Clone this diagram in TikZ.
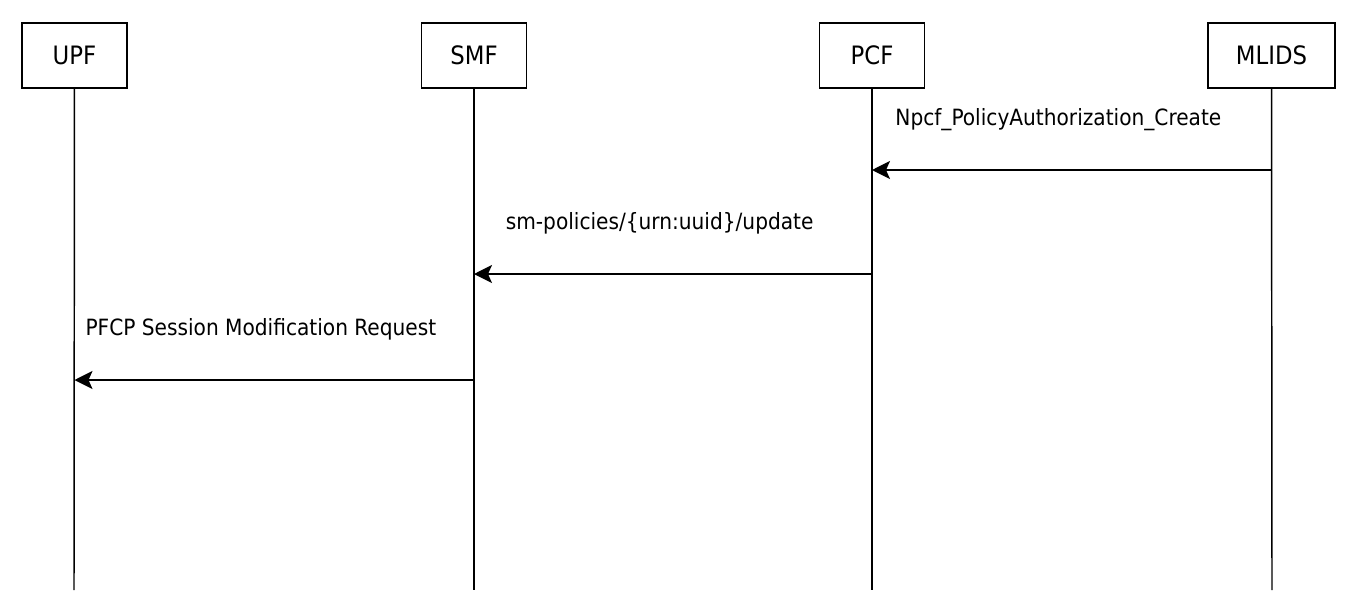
\documentclass[tikz,border=0pt]{standalone}
\usepackage{fontspec}
\setmainfont{DejaVu Sans Condensed}
\usetikzlibrary{arrows.meta}

\def \lifeend {590}
\def \lifewidth {1.1pt}

\begin{document}
\begin{tikzpicture}[x=0.75pt, y=-0.75pt,
  actor/.style={draw, line width=\lifewidth, minimum width=79pt, minimum height=48.75pt, inner sep=0pt, font=\fontsize{19pt}{22pt}\selectfont},
  life/.style={line width=\lifewidth},
  msg/.style={line width=\lifewidth, -{Stealth[length=13.5pt, width=13.5pt, inset=3pt]}},
  msglabel/.style={midway, xshift=-10pt, yshift=38pt, font=\fontsize{16.8pt}{20pt}\selectfont}]
\useasboundingbox (0,0) rectangle (1357,614);
% participants
\node[actor] (upf) at (74.5,55.5) {UPF};
\node[actor] (smf) at (474,55.5) {SMF};
\node[actor] (pcf) at (872,55.5) {PCF};
\node[actor, minimum width=95.25pt] (mlids) at (1271.5,55.5) {MLIDS};
% lifelines
\coordinate (upf-end) at (74,\lifeend);
\coordinate (smf-end) at (474,\lifeend);
\coordinate (pcf-end) at (872,\lifeend);
\coordinate (mlids-end) at (1272,\lifeend);
\draw[life] (upf) -- (upf-end);
\draw[life] (smf) -- (smf-end);
\draw[life] (pcf) -- (pcf-end);
\draw[life] (mlids) -- (mlids-end);
% messages
\coordinate (m1) at (0,170);
\coordinate (m2) at (0,274);
\coordinate (m3) at (0,380);
\draw[msg] (mlids |- m1) -- node[msglabel] {Npcf\_PolicyAuthorization\_Create} (pcf |- m1);
\draw[msg] (pcf |- m2) -- node[msglabel] {sm-policies/\{urn:uuid\}/update} (smf |- m2);
\draw[msg] (smf |- m3) -- node[msglabel] {PFCP Session Modification Request} (upf |- m3);
\end{tikzpicture}
\end{document}
